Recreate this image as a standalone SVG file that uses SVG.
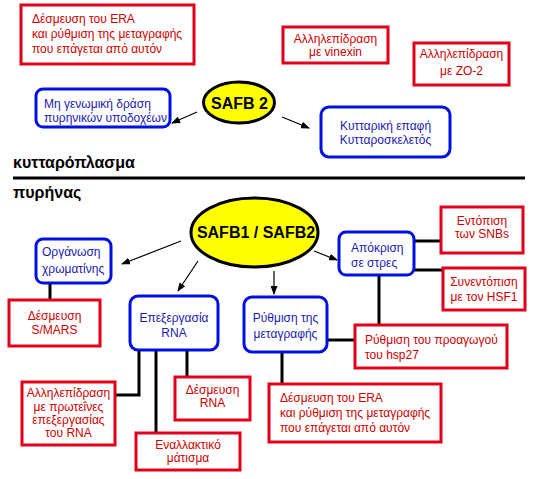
<svg xmlns="http://www.w3.org/2000/svg" width="534" height="479" viewBox="0 0 534 479">
<defs>
<marker id="ah" markerWidth="9" markerHeight="7" refX="8" refY="3.5" orient="auto" markerUnits="userSpaceOnUse">
<path d="M0,0 L9,3.5 L0,7 Z" fill="#000"/>
</marker>
<style>
.rb{fill:#fff;stroke:#e0001a;stroke-width:3}
.bb{fill:#fff;stroke:#0010e0;stroke-width:3}
.el{fill:#ffff00;stroke:#000;stroke-width:3}
.rt{font-family:"Liberation Sans",Arial,sans-serif;font-size:12px;fill:#cc0000}
.bt{font-family:"Liberation Sans",Arial,sans-serif;font-size:12px;fill:#1a1ab0}
.et{font-family:"Liberation Sans",Arial,sans-serif;font-size:16px;font-weight:bold;fill:#000}
.lt{font-family:"Liberation Sans",Arial,sans-serif;font-size:16px;font-weight:bold;fill:#000}
.c{text-anchor:middle}
.ln{stroke:#000;stroke-width:3;fill:none}
.ar{stroke:#000;stroke-width:1.2;fill:none;marker-end:url(#ah)}
</style>
</defs>
<rect width="534" height="479" fill="#fff"/>

<g id="connectors">
<line class="ar" x1="197" y1="112" x2="172" y2="123"/>
<line class="ar" x1="282" y1="117" x2="309" y2="128"/>
<line class="ar" x1="181" y1="241" x2="122" y2="264"/>
<line class="ar" x1="198" y1="261" x2="178" y2="291"/>
<line class="ar" x1="274" y1="271" x2="274" y2="294"/>
<line class="ar" x1="314" y1="251" x2="337" y2="260"/>
<polyline class="ln" points="50,283 50,300"/>
<polyline class="ln" points="139,350 139,395 115,395"/>
<polyline class="ln" points="156,350 156,433"/>
<polyline class="ln" points="187,350 187,377"/>
<polyline class="ln" points="327,340 355,340"/>
<polyline class="ln" points="282,352 282,384"/>
<polyline class="ln" points="414,241 441,241"/>
<polyline class="ln" points="414,270 443,270"/>
<polyline class="ln" points="379,275 379,325"/>
</g>

<g id="label-cytoplasm"><text class="lt" x="13" y="168">κυτταρόπλασμα</text></g>
<line id="membrane" x1="13" y1="178" x2="525" y2="178" stroke="#000" stroke-width="3"/>
<g id="label-nucleus"><text class="lt" x="13" y="198">πυρήνας</text></g>

<g id="era-top">
<rect class="rb" x="21" y="5" width="173" height="59"/>
<text class="rt" x="32" y="23">Δέσμευση του ERA</text>
<text class="rt" x="32" y="38">και ρύθμιση της μεταγραφής</text>
<text class="rt" x="32" y="53">που επάγεται από αυτόν</text>
</g>

<g id="vinexin">
<rect class="rb" x="283" y="27" width="105" height="36"/>
<text class="rt c" x="335.5" y="43">Αλληλεπίδραση</text>
<text class="rt c" x="335.5" y="56">με vinexin</text>
</g>

<g id="zo2">
<rect class="rb" x="414" y="43" width="95" height="42"/>
<text class="rt c" x="461.5" y="58">Αλληλεπίδραση</text>
<text class="rt c" x="461.5" y="75">με ZO-2</text>
</g>

<g id="safb2">
<ellipse class="el" cx="239" cy="102.5" rx="35.5" ry="20.5"/>
<text class="et c" x="239.5" y="109">SAFB 2</text>
</g>

<g id="nongenomic">
<rect class="bb" x="36" y="89" width="134" height="38" rx="7"/>
<text class="bt" x="44" y="108">Μη γενωμική δράση</text>
<text class="bt" x="44" y="122">πυρηνικών υποδοχέων</text>
</g>

<g id="contact">
<rect class="bb" x="321" y="107" width="129" height="50" rx="8"/>
<text class="bt c" x="385.5" y="130">Κυτταρική επαφή</text>
<text class="bt c" x="385.5" y="144">Κυτταροσκελετός</text>
</g>

<g id="safb12">
<ellipse class="el" cx="254.5" cy="232.5" rx="63.5" ry="34.5"/>
<text class="et c" x="256" y="238">SAFB1 / SAFB2</text>
</g>

<g id="chromatin">
<rect class="bb" x="36" y="239" width="75" height="44" rx="7"/>
<text class="bt" x="42" y="256">Οργάνωση</text>
<text class="bt" x="42" y="273">χρωματίνης</text>
</g>

<g id="smars">
<rect class="rb" x="9" y="300" width="91" height="46"/>
<text class="rt c" x="54.5" y="320">Δέσμευση</text>
<text class="rt c" x="54.5" y="334">S/MARS</text>
</g>

<g id="rnaproc">
<rect class="bb" x="130" y="296" width="88" height="54" rx="8"/>
<text class="bt c" x="174" y="322">Επεξεργασία</text>
<text class="bt c" x="174" y="337">RNA</text>
</g>

<g id="transcr">
<rect class="bb" x="244" y="297" width="83" height="55" rx="8"/>
<text class="bt c" x="285.5" y="322">Ρύθμιση της</text>
<text class="bt c" x="285.5" y="338">μεταγραφής</text>
</g>

<g id="stress">
<rect class="bb" x="339" y="232" width="75" height="43" rx="7"/>
<text class="bt" x="351" y="252">Απόκριση</text>
<text class="bt" x="351" y="267">σε στρες</text>
</g>

<g id="snbs">
<rect class="rb" x="441" y="207" width="82" height="46"/>
<text class="rt c" x="482" y="225">Εντόπιση</text>
<text class="rt c" x="482" y="238">των SNBs</text>
</g>

<g id="hsf1">
<rect class="rb" x="443" y="268" width="82" height="42"/>
<text class="rt c" x="484" y="286">Συνεντόπιση</text>
<text class="rt c" x="484" y="301">με τον HSF1</text>
</g>

<g id="hsp27">
<rect class="rb" x="355" y="325" width="152" height="43"/>
<text class="rt" x="365" y="344">Ρύθμιση του προαγωγού</text>
<text class="rt" x="365" y="359">του hsp27</text>
</g>

<g id="rnaprot">
<rect class="rb" x="22" y="382" width="93" height="63"/>
<text class="rt c" x="68.5" y="397">Αλληλεπίδραση</text>
<text class="rt c" x="68.5" y="411">με πρωτεΐνες</text>
<text class="rt c" x="68.5" y="424">επεξεργασίας</text>
<text class="rt c" x="68.5" y="437">του RNA</text>
</g>

<g id="rnabind">
<rect class="rb" x="175" y="377" width="75" height="43"/>
<text class="rt c" x="212.5" y="394">Δέσμευση</text>
<text class="rt c" x="212.5" y="407">RNA</text>
</g>

<g id="splicing">
<rect class="rb" x="136" y="433" width="104" height="37"/>
<text class="rt c" x="188" y="449">Εναλλακτικό</text>
<text class="rt c" x="188" y="462">μάτισμα</text>
</g>

<g id="era-bottom">
<rect class="rb" x="269" y="384" width="172" height="58"/>
<text class="rt" x="280" y="402">Δέσμευση του ERA</text>
<text class="rt" x="280" y="417">και ρύθμιση της μεταγραφής</text>
<text class="rt" x="280" y="432">που επάγεται από αυτόν</text>
</g>
</svg>
